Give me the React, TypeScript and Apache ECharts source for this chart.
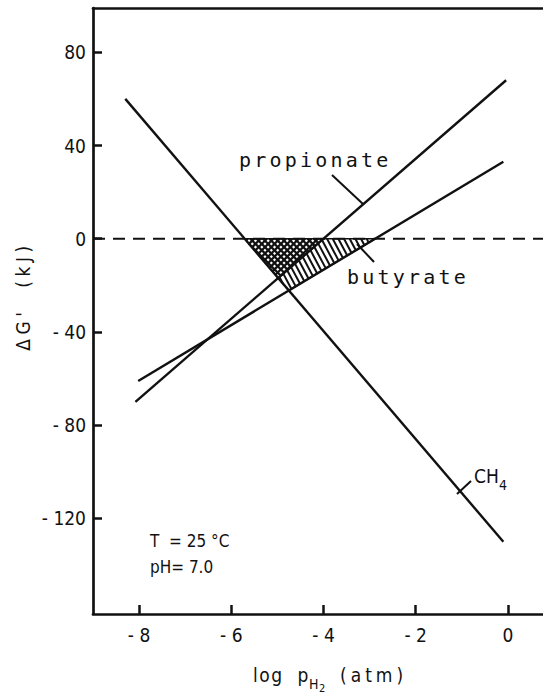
import React, { useEffect, useRef } from "react";
import * as echarts from "echarts";

// ---- data ----
const xTicks = [-8, -6, -4, -2, 0];
const yTicks = [-120, -80, -40, 0, 40, 80];
const ch4X = [-8.3, -0.1];
const ch4Y = [60, -130];
const propionateX = [-8.08, -0.04];
const propionateY = [-70, 68];
const butyrateX = [-8.02, -0.1];
const butyrateY = [-61, 33];
const zeroX = [-9, 0.76];
const zeroY = [0, 0];

type Ln = { m: number; b: number };
function lineOf(xs: number[], ys: number[]): Ln {
  const m = (ys[1] - ys[0]) / (xs[1] - xs[0]);
  return { m, b: ys[0] - m * xs[0] };
}
function meet(a: Ln, c: Ln): number[] {
  const x = (c.b - a.b) / (a.m - c.m);
  return [x, a.m * x + a.b];
}
function zeroOf(a: Ln): number[] {
  return [-a.b / a.m, 0];
}

const lCH4 = lineOf(ch4X, ch4Y);
const lProp = lineOf(propionateX, propionateY);
const lBut = lineOf(butyrateX, butyrateY);

const polyCross = [zeroOf(lCH4), zeroOf(lProp), meet(lCH4, lProp)];
const polyDiag = [zeroOf(lProp), zeroOf(lBut), meet(lCH4, lBut), meet(lCH4, lProp)];

function hatch(poly: number[][], angleDeg: number, spacing: number): number[][] {
  const t = (angleDeg * Math.PI) / 180;
  const d = [Math.cos(t), Math.sin(t)];
  const n = [-d[1], d[0]];
  const proj = poly.map((p) => p[0] * n[0] + p[1] * n[1]);
  const lo = Math.min(...proj);
  const hi = Math.max(...proj);
  const segs: number[][] = [];
  for (let c = lo + spacing / 2; c < hi; c += spacing) {
    const pts: number[][] = [];
    for (let i = 0; i < poly.length; i++) {
      const p = poly[i];
      const q = poly[(i + 1) % poly.length];
      const fp = p[0] * n[0] + p[1] * n[1] - c;
      const fq = q[0] * n[0] + q[1] * n[1] - c;
      if ((fp <= 0 && fq > 0) || (fp > 0 && fq <= 0)) {
        const k = fp / (fp - fq);
        pts.push([p[0] + k * (q[0] - p[0]), p[1] + k * (q[1] - p[1])]);
      }
    }
    if (pts.length >= 2) {
      pts.sort((a, b) => a[0] * d[0] + a[1] * d[1] - (b[0] * d[0] + b[1] * d[1]));
      const a = pts[0];
      const b = pts[pts.length - 1];
      segs.push([a[0], a[1], b[0], b[1]]);
    }
  }
  return segs;
}

const INK = "#111";
const FONT = "'DejaVu Sans Condensed', 'DejaVu Sans', sans-serif";
const MONO = "'DejaVu Sans Mono', monospace";

function fmt(v: number): string {
  return v < 0 ? "- " + String(-v) : String(v);
}

const spacingMap: Record<string, string> = {
  propionate: "3.2px",
  butyrate: "3.2px",
  "ΔG'  (kJ)": "4.5px",
  "(atm)": "4px",
  "log  p": "1.5px",
};

export default function App() {
  const ref = useRef<HTMLDivElement>(null);
  useEffect(() => {
    if (!ref.current) return;
    const chart = echarts.init(ref.current, undefined, { renderer: "svg" });
    const lineSeries = (name: string, xs: number[], ys: number[]) => ({
      name,
      type: "line",
      data: xs.map((x, i) => [x, ys[i]]),
      showSymbol: false,
      symbol: "none",
      lineStyle: { color: INK, width: 2.4 },
      z: 5,
    });
    const axisLineStyle = { color: INK, width: 2.7 };
    chart.setOption({
      animation: false,
      backgroundColor: "#fff",
      grid: {
        left: 93,
        top: 8,
        right: 0,
        height: 606,
        show: false,
      },
      xAxis: [
        {
          type: "value",
          min: -9,
          max: 0.76,
          axisLine: { show: true, onZero: false, lineStyle: axisLineStyle },
          axisTick: {
            show: true,
            inside: true,
            length: 9,
            lineStyle: { color: INK, width: 2.5 },
            customValues: xTicks,
          },
          axisLabel: {
            color: INK,
            fontFamily: FONT,
            fontSize: 19,
            margin: 11,
            customValues: xTicks,
            formatter: fmt,
          },
          splitLine: { show: false },
        },
        {
          type: "value",
          position: "top",
          min: -9,
          max: 0.76,
          axisLine: { show: true, onZero: false, lineStyle: axisLineStyle },
          axisTick: { show: false },
          axisLabel: { show: false },
          splitLine: { show: false },
        },
      ],
      yAxis: {
        type: "value",
        min: -161,
        max: 99,
        axisLine: { show: true, onZero: false, lineStyle: axisLineStyle },
        axisTick: {
          show: true,
          inside: true,
          length: 9,
          lineStyle: { color: INK, width: 2.5 },
          customValues: yTicks,
        },
        axisLabel: {
          color: INK,
          fontFamily: FONT,
          fontSize: 19,
          margin: 7,
          customValues: yTicks,
          formatter: fmt,
        },
        splitLine: { show: false },
      },
      series: [
        {
          name: "zero",
          type: "line",
          data: zeroX.map((x, i) => [x, zeroY[i]]),
          showSymbol: false,
          symbol: "none",
          lineStyle: { color: INK, width: 2, type: [12, 8] },
          z: 2,
        },
        {
          name: "hatch",
          type: "custom",
          data: [[0, 0]],
          clip: true,
          z: 3,
          renderItem: (_params: any, api: any) => {
            const A = polyCross.map((p) => api.coord(p));
            const B = polyDiag.map((p) => api.coord(p));
            const children: any[] = [];
            const addSegs = (segs: number[][], w: number) => {
              segs.forEach((s) =>
                children.push({
                  type: "line",
                  shape: { x1: s[0], y1: s[1], x2: s[2], y2: s[3] },
                  style: { stroke: INK, lineWidth: w },
                })
              );
            };
            addSegs(hatch(A, 45, 4.5), 2.3);
            addSegs(hatch(A, -45, 4.5), 2.3);
            addSegs(hatch(B, 62, 5), 2);
            children.push({
              type: "polygon",
              shape: { points: A },
              style: { fill: "none", stroke: INK, lineWidth: 1.6 },
            });
            children.push({
              type: "polygon",
              shape: { points: B },
              style: { fill: "none", stroke: INK, lineWidth: 1.6 },
            });
            return { type: "group", children };
          },
        },
        lineSeries("CH4", ch4X, ch4Y),
        lineSeries("propionate", propionateX, propionateY),
        lineSeries("butyrate", butyrateX, butyrateY),
      ],
      graphic: [
        {
          type: "text",
          x: 239,
          y: 160,
          style: { text: "propionate", font: `20px ${MONO}`, fill: INK, verticalAlign: "middle", align: "left" },
        },
        { type: "line", shape: { x1: 332, y1: 175, x2: 363, y2: 204 }, style: { stroke: INK, lineWidth: 2 } },
        {
          type: "text",
          x: 347,
          y: 277,
          style: { text: "butyrate", font: `20px ${MONO}`, fill: INK, verticalAlign: "middle", align: "left" },
        },
        { type: "line", shape: { x1: 357, y1: 244, x2: 374, y2: 262 }, style: { stroke: INK, lineWidth: 2 } },
        {
          type: "text",
          x: 474,
          y: 476,
          style: { text: "CH", font: `19px ${FONT}`, fill: INK, verticalAlign: "middle", align: "left" },
        },
        {
          type: "text",
          x: 499,
          y: 485,
          style: { text: "4", font: `14px ${FONT}`, fill: INK, verticalAlign: "middle", align: "left" },
        },
        { type: "line", shape: { x1: 457, y1: 494, x2: 471, y2: 481 }, style: { stroke: INK, lineWidth: 2 } },
        {
          type: "text",
          x: 150,
          y: 541,
          style: { text: "T  = 25 °C", font: `17px ${FONT}`, fill: INK, verticalAlign: "middle", align: "left" },
        },
        {
          type: "text",
          x: 150,
          y: 567,
          style: { text: "pH= 7.0", font: `17px ${FONT}`, fill: INK, verticalAlign: "middle", align: "left" },
        },
        {
          type: "text",
          x: 23,
          y: 296,
          rotation: Math.PI / 2,
          style: { text: "ΔG'  (kJ)", font: `19px ${FONT}`, fill: INK, verticalAlign: "middle", align: "center" },
        },
        {
          type: "text",
          x: 253,
          y: 675,
          style: { text: "log  p", font: `19px ${FONT}`, fill: INK, verticalAlign: "middle", align: "left" },
        },
        {
          type: "text",
          x: 309,
          y: 684,
          style: { text: "H", font: `14px ${FONT}`, fill: INK, verticalAlign: "middle", align: "left" },
        },
        {
          type: "text",
          x: 319,
          y: 688,
          style: { text: "2", font: `11px ${FONT}`, fill: INK, verticalAlign: "middle", align: "left" },
        },
        {
          type: "text",
          x: 340,
          y: 675,
          style: { text: "(atm)", font: `19px ${FONT}`, fill: INK, verticalAlign: "middle", align: "left" },
        },
      ],
    });
    const applySpacing = () => {
      if (!ref.current) return;
      ref.current.querySelectorAll("text").forEach((t) => {
        const s = spacingMap[(t.textContent || "").replace(/\u00a0/g, " ")];
        if (s) (t as SVGTextElement).style.letterSpacing = s;
      });
    };
    applySpacing();
    chart.on("finished", applySpacing);
    return () => {
      chart.dispose();
    };
  }, []);
  return (
    <div
      ref={ref}
      style={{ position: "fixed", left: 0, top: 0, width: 543, height: 696, background: "#fff" }}
    />
  );
}
